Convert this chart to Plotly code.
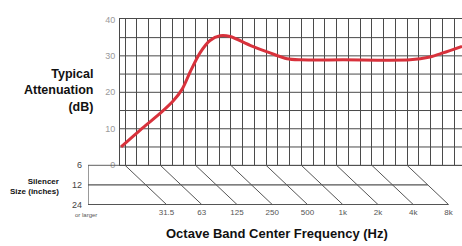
import plotly.graph_objects as go

# ---- data ----
# curve: x in third-octave band index (0 = 31.5 Hz at 6" size), y in dB
curve_band = [-0.34, 1.53, 2.98, 4.09, 4.85, 5.53, 6.38, 7.23, 8.09, 8.94, 10.64,
              12.34, 13.79, 14.89, 18.55, 24.26, 25.96, 27.06, 28.68]
curve_db = [5.0, 10.3, 14.2, 17.6, 20.8, 25.5, 30.8, 34.2, 35.5, 35.3, 32.9,
            30.8, 29.2, 28.9, 28.9, 28.9, 29.7, 30.8, 32.6]

freq_labels = ["31.5", "63", "125", "250", "500", "1k", "2k", "4k", "8k"]
freq_band = [0, 3, 6, 9, 12, 15, 18, 21, 24]       # band index at 6" size
size_labels = ["6", "12", "24"]
size_index = [0, 1, 2]
size_shift = 3.53                                   # band shift from 6" to 24"
y_ticks = [0, 10, 20, 30, 40]

X_MIN, X_MAX = -0.43, 28.68
X2_MIN = -3.15
W, H = 462, 246
GRID = "#4a4a4a"
LINE = "#555555"
PAD = 0.05

fig = go.Figure()

# attenuation curve
fig.add_trace(go.Scatter(x=curve_band, y=curve_db, mode="lines",
                         line=dict(color="#d8323c", width=3, shape="spline", smoothing=0.8),
                         hoverinfo="skip", xaxis="x", yaxis="y"))

# lower panel: diagonals for each octave
for b in freq_band:
    fig.add_trace(go.Scatter(x=[b, b + size_shift], y=[size_index[0], size_index[-1]],
                             mode="lines", line=dict(color=LINE, width=1),
                             hoverinfo="skip", xaxis="x2", yaxis="y2"))
# horizontal size lines
last = freq_band[-1]
ends = [X_MAX, last + size_shift / 2, last + size_shift]
for idx, e in zip(size_index, ends):
    fig.add_trace(go.Scatter(x=[X2_MIN, e], y=[idx, idx], mode="lines",
                             line=dict(color=LINE, width=1.2),
                             hoverinfo="skip", xaxis="x2", yaxis="y2"))
# left edge of the size box
fig.add_trace(go.Scatter(x=[X2_MIN, X2_MIN], y=[size_index[0], size_index[-1]],
                         mode="lines", line=dict(color=LINE, width=1.2),
                         hoverinfo="skip", xaxis="x2", yaxis="y2"))

fig.update_layout(
    width=W, height=H, margin=dict(l=0, r=0, t=0, b=0),
    paper_bgcolor="white", plot_bgcolor="rgba(0,0,0,0)", showlegend=False,
    font=dict(family="Liberation Sans, Arial, sans-serif"),
    xaxis=dict(domain=[120 / W, 1], range=[X_MIN, X_MAX], tick0=0, dtick=1,
               showgrid=True, gridcolor=GRID, gridwidth=1, showticklabels=False,
               zeroline=False, showline=True, linecolor=GRID, mirror=True,
               anchor="y"),
    yaxis=dict(domain=[1 - 167 / H, 1 - 15 / H], range=[0, 40], tickvals=y_ticks,
               showgrid=False, zeroline=False, showline=True, linecolor=GRID,
               ticks="", tickfont=dict(size=9, color="#9a9a9a"),
               ticklabelstandoff=2, anchor="x"),
    xaxis2=dict(domain=[88 / W, 1], range=[X2_MIN, X_MAX],
                tickvals=[b + size_shift for b in freq_band], ticktext=freq_labels,
                ticks="", tickfont=dict(size=8, color="#555555"),
                showgrid=False, zeroline=False, showline=False, anchor="y2"),
    yaxis2=dict(domain=[1 - 209 / H, 1 - 166 / H], range=[2 + PAD, -PAD],
                showticklabels=False, ticks="",
                showgrid=False, zeroline=False, showline=False,
                anchor="x2"),
)

# size labels placed at the left edge of the box
for idx, lab in zip(size_index, size_labels):
    fig.add_annotation(x=X2_MIN, y=idx, xref="x2", yref="y2", text=lab,
                       xanchor="right", yanchor="middle", xshift=-4, showarrow=False,
                       font=dict(size=9, color="#444444"))

# horizontal grid lines every 5 dB
for v in range(5, 40, 5):
    fig.add_shape(type="line", xref="x", yref="y", x0=X_MIN, x1=X_MAX, y0=v, y1=v,
                  line=dict(color=GRID, width=1), layer="below")

bold = dict(family="Liberation Sans, Arial, sans-serif", color="#111111")
fig.add_annotation(x=95 / W, y=1 - 89 / H, xref="paper", yref="paper",
                   xanchor="right", yanchor="middle", align="right", showarrow=False,
                   text="<b>Typical<br>Attenuation<br>(dB)</b>",
                   font=dict(size=12.5, **bold))
fig.add_annotation(x=61 / W, y=1 - 189 / H, xref="paper", yref="paper",
                   xanchor="right", yanchor="middle", align="right", showarrow=False,
                   text="<b>Silencer<br>Size (inches)</b>",
                   font=dict(size=8, **bold))
fig.add_annotation(x=73 / W, y=1 - 219 / H, xref="paper", yref="paper",
                   xanchor="left", yanchor="middle", showarrow=False,
                   text="or larger", font=dict(size=6, color="#555555"))
fig.add_annotation(x=277 / W, y=1 - 238 / H, xref="paper", yref="paper",
                   xanchor="center", yanchor="middle", showarrow=False,
                   text="<b>Octave Band Center Frequency (Hz)</b>",
                   font=dict(size=13, **bold))

fig.write_html("out.html", config={"displayModeBar": False})

# remove the default page margin so the figure sits at the top-left corner
with open("out.html", encoding="utf-8") as f:
    html = f.read()
html = html.replace("<head>", "<head><style>html,body{margin:0;padding:0;overflow:hidden}</style>", 1)
with open("out.html", "w", encoding="utf-8") as f:
    f.write(html)
